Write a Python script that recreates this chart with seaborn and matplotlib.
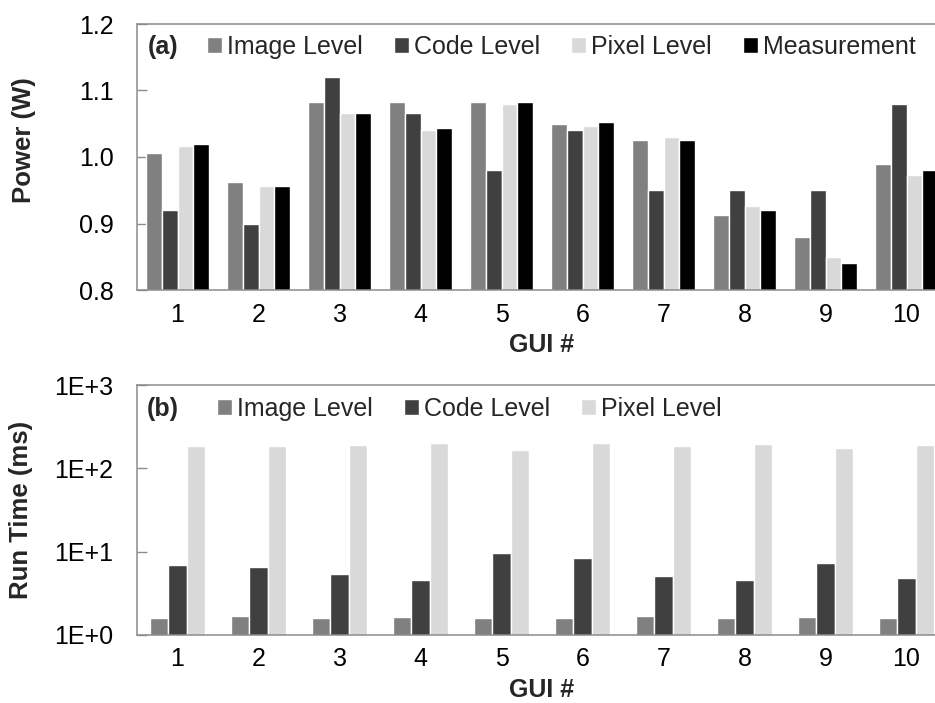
import numpy as np
import pandas as pd
import seaborn as sns
import matplotlib.pyplot as plt
from matplotlib.ticker import FixedLocator, FixedFormatter, NullLocator

# GUI screens on the x axis
gui = [str(i) for i in range(1, 11)]

# (a) power estimates vs. measurement, in W
power_series = ["Image Level", "Code Level", "Pixel Level", "Measurement"]
power_image = [1.006, 0.963, 1.083, 1.083, 1.083, 1.050, 1.026, 0.913, 0.880, 0.990]
power_code = [0.920, 0.900, 1.120, 1.066, 0.980, 1.040, 0.950, 0.950, 0.950, 1.080]
power_pixel = [1.016, 0.956, 1.066, 1.040, 1.080, 1.046, 1.030, 0.926, 0.850, 0.973]
power_meas = [1.020, 0.956, 1.066, 1.043, 1.083, 1.053, 1.026, 0.920, 0.840, 0.980]

# (b) run time of each estimation level, in ms
time_series = ["Image Level", "Code Level", "Pixel Level"]
time_image = [1.61, 1.67, 1.61, 1.63, 1.61, 1.58, 1.69, 1.61, 1.64, 1.61]
time_code = [6.9, 6.6, 5.45, 4.53, 9.6, 8.5, 5.1, 4.53, 7.24, 4.83]
time_pixel = [185, 185, 190, 201, 167, 201, 185, 194, 174, 189]

power_ticks = [0.8, 0.9, 1.0, 1.1, 1.2]
time_ticks = [1, 10, 100, 1000]
time_ticklabels = ["1E+0", "1E+1", "1E+2", "1E+3"]

palette = {"Image Level": "#808080", "Code Level": "#404040",
           "Pixel Level": "#d9d9d9", "Measurement": "#000000"}

def long_table(series_names, columns):
    rows = []
    for name, vals in zip(series_names, columns):
        for g, v in zip(gui, vals):
            rows.append({"GUI": g, "series": name, "value": v})
    return pd.DataFrame(rows)

power_df = long_table(power_series, [power_image, power_code, power_pixel, power_meas])
time_df = long_table(time_series, [time_image, time_code, time_pixel])

sns.set_style("white")
plt.rcParams["font.family"] = ["Liberation Sans", "DejaVu Sans"]
plt.rcParams["font.size"] = 18

FS = 18
SPINE = "#8c8c8c"

fig = plt.figure(figsize=(9.35, 7.03), dpi=100)
ax1 = fig.add_axes([137 / 935, 1 - 290 / 703, 810 / 935, 266 / 703])
ax2 = fig.add_axes([137 / 935, 1 - 635 / 703, 810 / 935, 250 / 703])

sns.barplot(data=power_df, x="GUI", y="value", hue="series", order=gui,
            hue_order=power_series, palette=palette, width=0.79,
            saturation=1, ax=ax1, legend=True)

ax2.set_yscale("log")
sns.barplot(data=time_df, x="GUI", y="value", hue="series", order=gui,
            hue_order=time_series, palette=palette, width=0.667,
            saturation=1, ax=ax2, legend=True)

ax1.set_ylim(0.8, 1.2)
ax1.yaxis.set_major_locator(FixedLocator(power_ticks))
ax1.yaxis.set_major_formatter(FixedFormatter([f"{t:.1f}" for t in power_ticks]))

ax2.set_ylim(1, 1000)
ax2.yaxis.set_major_locator(FixedLocator(time_ticks))
ax2.yaxis.set_major_formatter(FixedFormatter(time_ticklabels))
ax2.yaxis.set_minor_locator(NullLocator())

panels = [
    (ax1, "Power (W)", (-0.1247, 0.564), (0.0864, 0.9135), "(a)", 0.0136, 5),
    (ax2, "Run Time (ms)", (-0.1284, 0.5), (0.0988, 0.904), "(b)", 0.0123, 5),
]
for ax, lbl, ylab_xy, legend_xy, tag, tag_x, xpad in panels:
    ax.set_xlim(-0.5, 9.5)
    for s in ax.spines.values():
        s.set_visible(True)
        s.set_color(SPINE)
        s.set_linewidth(1.1)
    ax.xaxis.set_minor_locator(FixedLocator(np.arange(0.5, 9.0, 1.0)))
    ax.tick_params(axis="x", which="major", length=0, pad=9, labelsize=FS, colors="black")
    ax.tick_params(axis="x", which="minor", length=7, width=1, direction="in", color=SPINE)
    ax.tick_params(axis="y", which="major", length=7, width=1, direction="in",
                   color=SPINE, pad=17, labelsize=FS, labelcolor="black", left=True)
    ax.set_xlabel("GUI #", fontsize=FS, fontweight="bold", labelpad=xpad)
    ax.set_ylabel(lbl, fontsize=18.5, fontweight="bold")
    ax.yaxis.set_label_coords(*ylab_xy)

    handles, labels = ax.get_legend_handles_labels()
    ax.legend(handles, labels, loc="center left", bbox_to_anchor=legend_xy,
              ncol=len(labels), frameon=False, fontsize=FS, borderpad=0,
              borderaxespad=0, handlelength=0.6, handleheight=0.6,
              handletextpad=0.2, columnspacing=1.25)
    ax.text(tag_x, legend_xy[1], tag, transform=ax.transAxes, fontsize=FS,
            fontweight="bold", va="center", ha="left")

fig.savefig("out.png", dpi=100)
